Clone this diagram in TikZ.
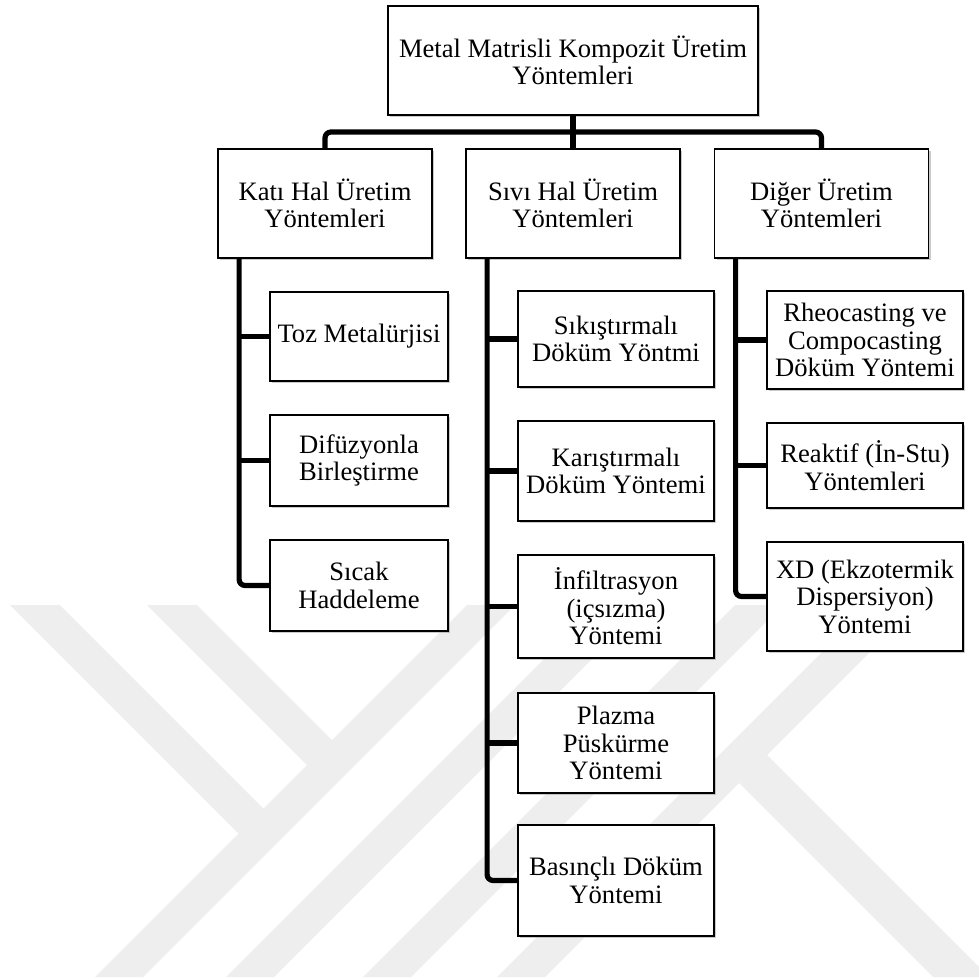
\documentclass[tikz,border=0pt]{standalone}
\usepackage{fontspec}
\setmainfont{Liberation Serif}
\usetikzlibrary{shadows}

\begin{document}
\begin{tikzpicture}[x=0.5pt,y=-0.5pt,
  kutu/.style={draw,fill=white,line width=0.9pt,align=center,inner sep=2pt,
    font=\fontsize{13.3pt}{13.8pt}\selectfont,
    drop shadow={shadow xshift=1.1pt,shadow yshift=-1.1pt,fill=black!45,opacity=.45}},
  hat/.style={line width=2.6pt,rounded corners=3pt}]
\definecolor{filigran}{HTML}{EEEEEE}
\useasboundingbox (0,0) rectangle (979,979);
% faint watermark behind the chart
\begin{scope}
  \clip (0,605) rectangle (979,977);
  \foreach \a in {1072,1203,1340,1474}
    \fill[filigran] (\a-605,605) -- (\a+48-605,605) -- (\a+48-977,977) -- (\a-977,977) -- cycle;
  \fill[filigran] (10,605) -- (60,605) -- (275,820) -- (250,845) -- cycle;
  \fill[filigran] (147,605) -- (197,605) -- (344,752) -- (319,777) -- cycle;
  \fill[filigran] (767,755) -- (989,977) -- (933,977) -- (739,783) -- cycle;
\end{scope}

\node[kutu,minimum width=185pt,minimum height=54.5pt] (ana) at (573,60.5) {Metal Matrisli Kompozit Üretim\\Yöntemleri};
\foreach \isim/\x/\metin in {kati/325/{Katı Hal Üretim\\Yöntemleri},sivi/573/{Sıvı Hal Üretim\\Yöntemleri},diger/821.5/{Diğer Üretim\\Yöntemleri}}
  {\node[kutu,minimum width=107pt,minimum height=54.5pt] (\isim) at (\x,203.5) {\metin};}

% Kati hal
\foreach \isim/\y/\h/\metin in {toz/336.5/89/{Toz Metalürjisi},difuzyon/460.5/91/{Difüzyonla\\Birleştirme},sicak/585.5/91/{Sıcak\\Haddeleme}}
  {\node[kutu,minimum width=89pt,minimum height=\h*0.5pt] (\isim) at (359,\y) {\metin};}
% Sivi hal
\foreach \isim/\y/\h/\metin in {sikistirma/339/96/{Sıkıştırmalı\\Döküm Yöntmi},karistirma/471/100/{Karıştırmalı\\Döküm Yöntemi},infiltrasyon/606.5/103/{İnfiltrasyon\\(içsızma)\\Yöntemi},plazma/743/100/{Plazma\\Püskürme\\Yöntemi},basincli/880.5/111/{Basınçlı Döküm\\Yöntemi}}
  {\node[kutu,minimum width=98pt,minimum height=\h*0.5pt] (\isim) at (616,\y) {\metin};}
% Diger
\foreach \isim/\y/\h/\metin in {rheo/340/98/{Rheocasting ve\\Compocasting\\Döküm Yöntemi},reaktif/465.5/85/{Reaktif (İn-Stu)\\Yöntemleri},xd/596.5/109/{XD (Ekzotermik\\Dispersiyon)\\Yöntemi}}
  {\node[kutu,minimum width=98pt,minimum height=\h*0.5pt] (\isim) at (865,\y) {\metin};}

\coordinate (ayrim) at (573,132);
\draw[hat] (kati.north) |- (ayrim) -| (diger.north);
\draw[hat] (ana.south) -- (sivi.north);

\foreach \ust/\son in {kati/sicak,sivi/basincli,diger/xd}
  {\coordinate (\ust K) at ([xshift=11pt]\ust.south west);
   \draw[hat] (\ust K) |- (\son.west);}
\foreach \ust/\alt in {kati/toz,kati/difuzyon,sivi/sikistirma,sivi/karistirma,sivi/infiltrasyon,sivi/plazma,diger/rheo,diger/reaktif}
  {\draw[hat] (\alt.west) -- (\alt.west -| \ust K);}
\end{tikzpicture}
\end{document}
